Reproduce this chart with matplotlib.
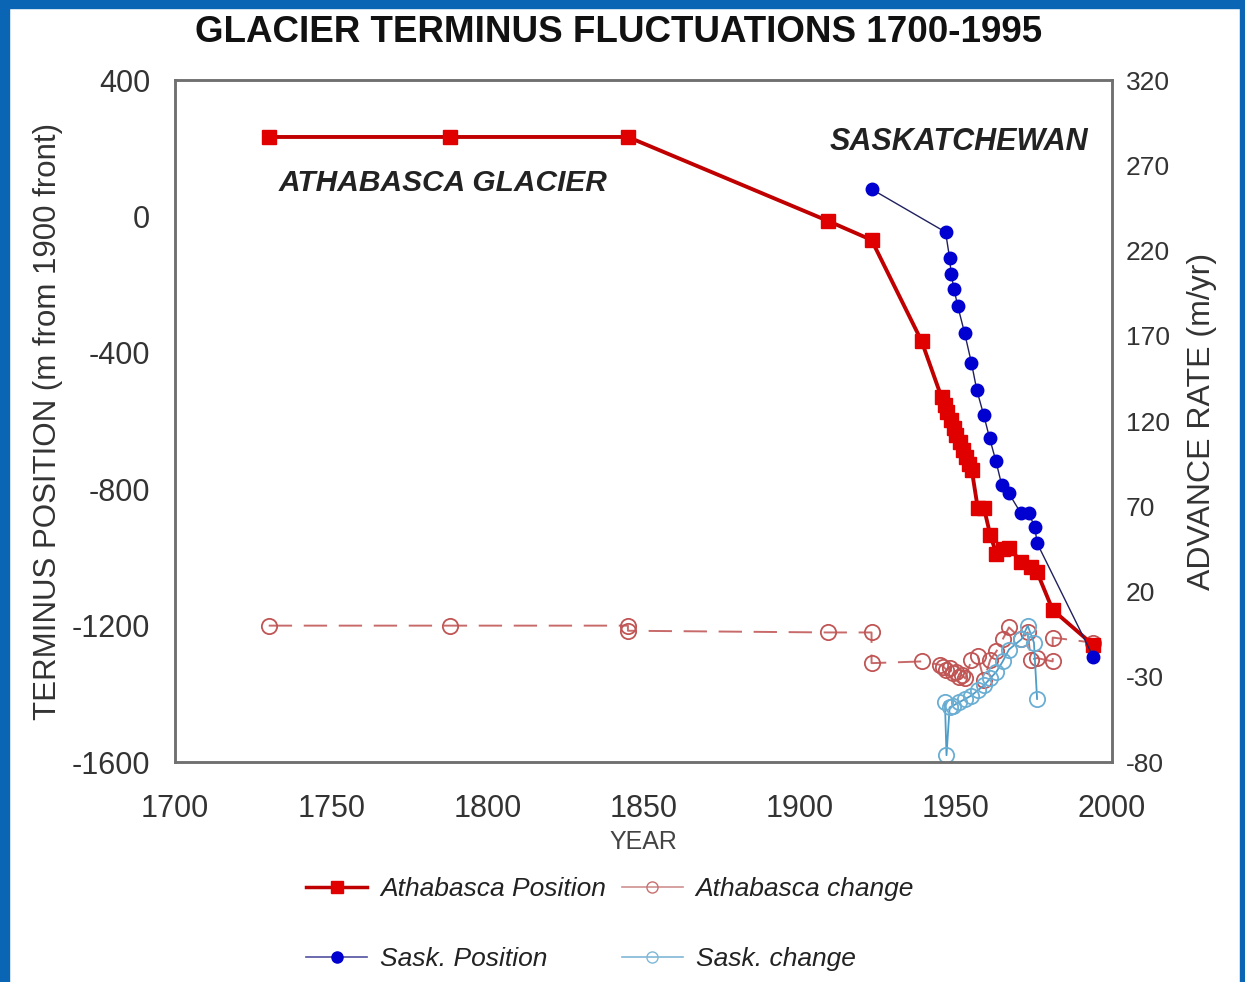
import matplotlib
matplotlib.use('Agg')
import matplotlib.pyplot as plt
from matplotlib.lines import Line2D
from matplotlib.patches import Rectangle

plt.rcParams['font.family'] = ['Liberation Sans', 'DejaVu Sans']
plt.rcParams['axes.unicode_minus'] = False

# Athabasca terminus position (m from 1900 front)
ath_years = [1730, 1788, 1845, 1909, 1923, 1939, 1945.4, 1946.4, 1947.3, 1948.3, 1949.3,
             1950.2, 1951.2, 1952.2, 1953.1, 1954.1, 1955.1, 1957, 1959, 1961, 1963,
             1965, 1967, 1971, 1974, 1976, 1981, 1994]
ath_pos = [233, 233, 233, -13, -69, -365, -530, -553, -574, -597, -621,
           -641, -662, -685, -706, -726, -744, -855, -855, -934, -990,
           -975, -972, -1013, -1028, -1043, -1154, -1257]

# Saskatchewan terminus position
sask_years = [1923, 1946.7, 1948, 1948.5, 1949.4, 1950.6, 1952.8, 1955, 1956.7, 1958.9,
              1960.8, 1962.8, 1964.7, 1966.9, 1970.8, 1973.3, 1975.3, 1976, 1994]
sask_pos = [80, -46, -122, -169, -213, -263, -342, -430, -509, -582,
            -650, -717, -788, -811, -870, -870, -911, -958, -1292]

# Athabasca advance rate (m/yr)
ath_chg_years = [1730, 1788, 1845, 1845, 1909, 1923, 1923, 1939, 1945, 1946, 1947,
                 1948, 1949, 1950, 1951, 1952, 1953, 1955, 1957, 1959, 1961, 1963,
                 1965, 1967, 1971, 1973, 1974, 1976, 1981, 1981, 1994]
ath_chg = [0, 0, 0, -3, -4, -4, -22, -21, -23, -24, -26,
           -25, -28, -27, -30, -29, -31, -20, -18, -32, -20, -15,
           -8, -1, -8, -4, -20, -19, -21, -7, -10]

# Saskatchewan advance rate (m/yr)
sask_chg_years = [1946.5, 1947, 1948, 1949, 1951, 1953, 1955, 1957, 1959, 1961,
                  1963, 1965, 1967, 1971, 1973, 1975, 1976]
sask_chg = [-45, -76, -48, -47, -45, -43, -41, -38, -35, -31,
            -27, -21, -14, -8, 0, -10, -43]

left_ticks = [400, 0, -400, -800, -1200, -1600]
right_ticks = [320, 270, 220, 170, 120, 70, 20, -30, -80]
x_ticks = [1700, 1750, 1800, 1850, 1900, 1950, 2000]

fig = plt.figure(figsize=(12.45, 9.82), dpi=100)
fig.patch.set_facecolor('white')

# blue slide border
border = '#0a66b4'
fig.patches.append(Rectangle((0, 0), 0.007, 1, transform=fig.transFigure, color=border, zorder=0))
fig.patches.append(Rectangle((0, 0.992), 1, 0.008, transform=fig.transFigure, color=border, zorder=0))
fig.patches.append(Rectangle((0.996, 0), 0.004, 1, transform=fig.transFigure, color=border, zorder=0))

ax = fig.add_axes([0.1406, 0.224, 0.7526, 0.6945])
ax2 = ax.twinx()
ax.set_zorder(ax2.get_zorder() + 1)
ax.patch.set_visible(False)

# change series on the right axis
ax2.plot(ath_chg_years, ath_chg, color='#c86a6a', lw=1.4, dashes=(12, 6),
         marker='o', ms=11, mfc='none', mec='#c05555', mew=1.3)
ax2.plot(sask_chg_years, sask_chg, color='#4e9cc8', lw=1.3,
         marker='o', ms=11, mfc='none', mec='#6aaed3', mew=1.3)

# positions on the left axis
ax.plot(ath_years, ath_pos, color='#c00000', lw=2.8,
        marker='s', ms=10, mfc='#e00000', mec='#e00000')
ax.plot(sask_years, sask_pos, color='#202060', lw=1.0,
        marker='o', ms=9, mfc='#0000d0', mec='#0000d0')

ax.set_xlim(1700, 2000)
ax.set_ylim(-1600, 400)
ax2.set_ylim(-80, 320)
ax.set_xticks(x_ticks)
ax.set_yticks(left_ticks)
ax2.set_yticks(right_ticks)

tick_col = '#333333'
ax.tick_params(axis='x', length=0, pad=23, labelsize=22, labelcolor=tick_col)
ax.tick_params(axis='y', length=0, pad=18, labelsize=22, labelcolor=tick_col)
ax2.tick_params(axis='y', length=0, pad=10, labelsize=19, labelcolor=tick_col)

for a in (ax, ax2):
    for s in a.spines.values():
        s.set_color('#707070')
        s.set_linewidth(1.8)

ax.set_xlabel('YEAR', fontsize=18, color='#444444', labelpad=4)
ax.set_ylabel('TERMINUS POSITION (m from 1900 front)', fontsize=22.5, color='#333333', labelpad=6)
ax2.set_ylabel('ADVANCE RATE (m/yr)', fontsize=23, color='#333333', labelpad=12)

ax.text(1733, 98, 'ATHABASCA GLACIER', fontsize=21.5, fontweight='bold', fontstyle='italic',
        color='#222222', va='center', ha='left')
ax.text(1909.5, 218, 'SASKATCHEWAN', fontsize=22, fontweight='bold', fontstyle='italic',
        color='#222222', va='center', ha='left')

fig.text(0.4965, 0.967, 'GLACIER TERMINUS FLUCTUATIONS 1700-1995', fontsize=26.5,
         fontweight='bold', color='#111111', ha='center', va='center')

handles = [
    Line2D([], [], color='#c00000', lw=2.5, marker='s', ms=8, mfc='#e00000', mec='#e00000'),
    Line2D([], [], color='#5050a0', lw=1.2, marker='o', ms=8, mfc='#0000d0', mec='#0000d0'),
    Line2D([], [], color='#d09090', lw=1.2, marker='o', ms=8, mfc='none', mec='#c87070'),
    Line2D([], [], color='#80b8d8', lw=1.2, marker='o', ms=8, mfc='none', mec='#80b8d8'),
]
labels = ['Athabasca Position', 'Sask. Position', 'Athabasca change', 'Sask. change']
fig.legend(handles, labels, ncol=2, loc='upper left', bbox_to_anchor=(0.246, 0.107),
           frameon=False, prop={'style': 'italic', 'size': 19}, handlelength=2.3,
           handletextpad=0.5, columnspacing=0.6, labelspacing=1.75,
           borderpad=0, borderaxespad=0, labelcolor='#222222')

fig.savefig('out.png', dpi=100, facecolor='white')
